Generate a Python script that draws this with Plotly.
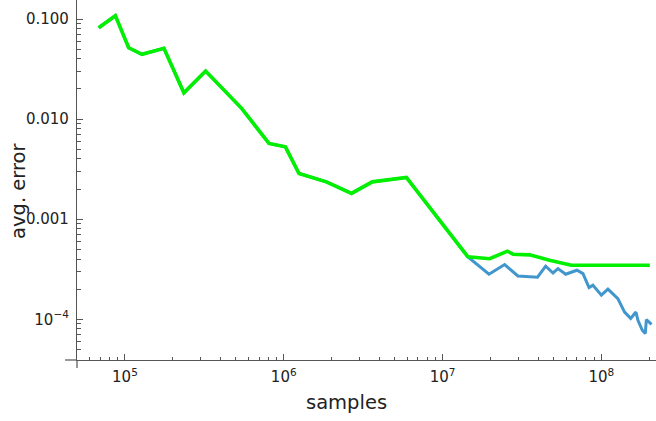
import plotly.graph_objects as go

# ---- data ----
green_x = [6.83e4, 8.70e4, 1.055e5, 1.28e5, 1.76e5, 2.35e5, 3.22e5, 5.43e5, 8.07e5,
           1.024e6, 1.247e6, 1.855e6, 2.67e6, 3.61e6, 5.92e6, 1.445e7, 1.98e7, 2.56e7,
           2.78e7, 3.54e7, 4.72e7, 6.47e7, 1.0e8, 1.5e8, 2.02e8]
green_y = [0.0818, 0.108, 0.0516, 0.0444, 0.0509, 0.0183, 0.0302, 0.0128, 0.00571,
           0.00528, 0.00286, 0.00236, 0.00181, 0.00236, 0.00261, 4.20e-4, 4.03e-4, 4.79e-4,
           4.47e-4, 4.40e-4, 3.89e-4, 3.47e-4, 3.47e-4, 3.47e-4, 3.47e-4]

blue_x = [6.83e4, 8.70e4, 1.055e5, 1.28e5, 1.76e5, 2.35e5, 3.22e5, 5.43e5, 8.07e5,
          1.024e6, 1.247e6, 1.855e6, 2.67e6, 3.61e6, 5.92e6, 1.445e7, 1.96e7, 2.46e7,
          2.98e7, 3.96e7, 4.46e7, 4.96e7, 5.33e7, 5.96e7, 7.02e7, 7.66e7, 8.36e7,
          8.85e7, 1.0e8, 1.10e8, 1.27e8, 1.40e8, 1.53e8, 1.65e8, 1.70e8, 1.81e8,
          1.89e8, 1.92e8, 2.07e8]
blue_y = [0.0818, 0.108, 0.0516, 0.0444, 0.0509, 0.0183, 0.0302, 0.0128, 0.00571,
          0.00528, 0.00286, 0.00236, 0.00181, 0.00236, 0.00261, 4.20e-4, 2.82e-4, 3.52e-4,
          2.71e-4, 2.63e-4, 3.39e-4, 2.90e-4, 3.21e-4, 2.82e-4, 3.09e-4, 2.86e-4, 2.07e-4,
          2.19e-4, 1.74e-4, 2.0e-4, 1.61e-4, 1.18e-4, 1.02e-4, 1.18e-4, 9.77e-5, 7.76e-5,
          7.19e-5, 9.93e-5, 8.91e-5]

x_tick_vals = [1e5, 1e6, 1e7, 1e8]
x_tick_text = ["10<sup>5</sup>", "10<sup>6</sup>", "10<sup>7</sup>", "10<sup>8</sup>"]
y_tick_vals = [1e-4, 1e-3, 1e-2, 1e-1]
y_tick_text = ["10<sup>\u22124</sup>", "0.001", "0.010", "0.100"]

x_label = "samples"
y_label = "avg. error"

FONT = "DejaVu Sans"
AXIS_COLOR = "#555555"
TEXT_COLOR = "#222222"

fig = go.Figure()
fig.add_trace(go.Scatter(x=blue_x, y=blue_y, mode="lines",
                         line=dict(color="#4196cd", width=3), showlegend=False))
fig.add_trace(go.Scatter(x=green_x, y=green_y, mode="lines",
                         line=dict(color="#00f000", width=3.6), showlegend=False))

axis_common = dict(
    showgrid=False, zeroline=False, showline=True, linecolor=AXIS_COLOR, linewidth=1.2,
    ticks="inside", ticklen=6, tickwidth=1, tickcolor=AXIS_COLOR,
    tickfont=dict(family=FONT, size=15, color=TEXT_COLOR),
    mirror=False,
)

fig.update_xaxes(type="log", range=[4.698, 8.344], tickmode="array",
                 tickvals=x_tick_vals, ticktext=x_tick_text,
                 minor=dict(dtick="D1", ticks="inside", ticklen=3, tickwidth=1,
                            tickcolor=AXIS_COLOR),
                 ticklabelstandoff=3, **axis_common)
fig.update_yaxes(type="log", range=[-4.407, -0.81], tickmode="array",
                 tickvals=y_tick_vals, ticktext=y_tick_text,
                 minor=dict(dtick="D1", ticks="inside", ticklen=3.5, tickwidth=1,
                            tickcolor=AXIS_COLOR),
                 ticklabelstandoff=4, **axis_common)

# small axis extensions beyond the crossing point
fig.add_shape(type="line", xref="paper", yref="paper", x0=-0.0207, x1=0, y0=0, y1=0,
              line=dict(color=AXIS_COLOR, width=1.2))
fig.add_shape(type="line", xref="paper", yref="paper", x0=0, x1=0, y0=-0.0222, y1=0,
              line=dict(color=AXIS_COLOR, width=1.2))

fig.add_annotation(text=x_label, xref="paper", yref="paper", x=0.466, y=-0.1167,
                   xanchor="center", yanchor="middle", showarrow=False,
                   font=dict(family=FONT, size=19.5, color=TEXT_COLOR))
fig.add_annotation(text=y_label, xref="paper", yref="paper", x=-0.1, y=0.47,
                   xanchor="center", yanchor="middle", showarrow=False, textangle=-90,
                   font=dict(family=FONT, size=19.5, color=TEXT_COLOR))

fig.update_layout(width=656, height=421, margin=dict(l=77, r=0, t=0, b=61),
                  paper_bgcolor="white", plot_bgcolor="white")

fig.write_html("out.html", config=dict(displayModeBar=False),
               post_script="document.body.style.margin='0';document.body.style.overflow='hidden';")
